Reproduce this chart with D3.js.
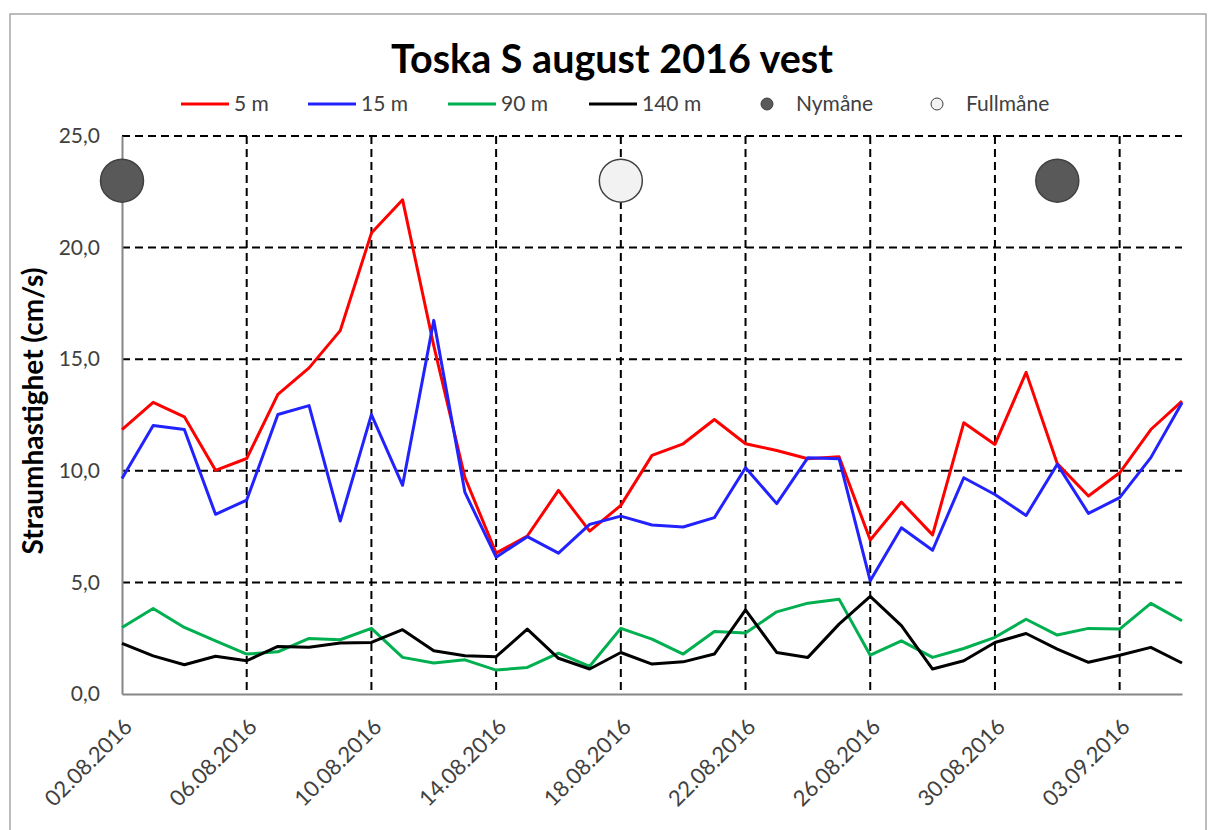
<!DOCTYPE html>
<html>
<head>
<meta charset="utf-8">
<script src="https://cdn.jsdelivr.net/npm/d3@7"></script>
<style>
  body { margin: 0; background: #fff; }
  text { font-family: Lato, "Open Sans", sans-serif; }
</style>
</head>
<body>
<svg id="chart" width="1214" height="830"></svg>
<script>
const svg = d3.select('#chart');
const margin = { top: 136, left: 122 };
const innerWidth = 1060;
const innerHeight = 558;

// daily means, 02.08.2016 - 05.09.2016
const startDate = '2016-08-02';
const endDate = '2016-09-05';
const depth5 = [11.85, 13.07, 12.42, 10.02, 10.55, 13.42, 14.61, 16.28, 20.65, 22.14,
  15.6, 9.7, 6.31, 7.08, 9.12, 7.30, 8.45, 10.69, 11.21, 12.30,
  11.21, 10.91, 10.54, 10.63, 6.90, 8.60, 7.13, 12.15, 11.18, 14.41,
  10.32, 8.87, 9.91, 11.85, 13.12];
const depth15 = [9.66, 12.03, 11.85, 8.05, 8.69, 12.52, 12.92, 7.75, 12.52, 9.35,
  16.74, 9.03, 6.13, 7.05, 6.31, 7.60, 7.97, 7.57, 7.48, 7.90,
  10.14, 8.53, 10.59, 10.54, 5.07, 7.45, 6.44, 9.69, 8.94, 8.00,
  10.29, 8.09, 8.80, 10.59, 13.05];
const depth90 = [2.98, 3.83, 2.98, 2.38, 1.79, 1.89, 2.49, 2.43, 2.94, 1.64,
  1.39, 1.53, 1.07, 1.19, 1.83, 1.24, 2.94, 2.46, 1.79, 2.80,
  2.73, 3.68, 4.07, 4.25, 1.74, 2.38, 1.64, 2.04, 2.54, 3.35,
  2.64, 2.94, 2.91, 4.06, 3.28];
const depth140 = [2.27, 1.71, 1.31, 1.69, 1.49, 2.13, 2.09, 2.28, 2.31, 2.88,
  1.94, 1.71, 1.67, 2.91, 1.60, 1.12, 1.86, 1.34, 1.44, 1.79,
  3.77, 1.86, 1.64, 3.13, 4.37, 3.06, 1.12, 1.49, 2.31, 2.71,
  2.01, 1.42, 1.74, 2.09, 1.39];

const seriesNames = ['5 m', '15 m', '90 m', '140 m'];
const seriesColors = ['#ff0000', '#2222ff', '#00b050', '#000000'];
const seriesValues = [depth5, depth15, depth90, depth140];

// moon phases
const moonDates = ['2016-08-02', '2016-08-18', '2016-09-01'];
const moonTypes = ['Nymåne', 'Fullmåne', 'Nymåne'];
const moonLevel = 23;

const yTicks = [0, 5, 10, 15, 20, 25];

const parse = d3.timeParse('%Y-%m-%d');
const dates = d3.timeDay.range(parse(startDate), d3.timeDay.offset(parse(endDate), 1));
const xTicks = d3.timeDay.range(parse(startDate), parse(endDate), 4);

// outer frame
svg.append('rect')
  .attr('x', 10).attr('y', 14).attr('width', 1196).attr('height', 830)
  .attr('fill', 'none').attr('stroke', '#a6a6a6').attr('stroke-width', 1.5);

const g = svg.append('g')
  .attr('transform', `translate(${margin.left},${margin.top})`);

const x = d3.scaleTime()
  .domain([parse(startDate), parse(endDate)])
  .range([0, innerWidth]);
const y = d3.scaleLinear()
  .domain([0, 25])
  .range([innerHeight, 0]);

// gridlines
g.append('g')
  .selectAll('line')
  .data(yTicks.filter(d => d > 0))
  .enter().append('line')
  .attr('x1', 0).attr('x2', innerWidth)
  .attr('y1', d => y(d)).attr('y2', d => y(d))
  .attr('stroke', '#000').attr('stroke-width', 2).attr('stroke-dasharray', '8,5');
g.append('g')
  .selectAll('line')
  .data(xTicks.slice(1))
  .enter().append('line')
  .attr('x1', d => x(d)).attr('x2', d => x(d))
  .attr('y1', 0).attr('y2', innerHeight)
  .attr('stroke', '#000').attr('stroke-width', 2).attr('stroke-dasharray', '8,5');

// axes
const yAxis = g.append('g')
  .call(d3.axisLeft(y).tickValues(yTicks).tickSize(0).tickPadding(22)
    .tickFormat(d => d3.format('.1f')(d).replace('.', ',')));
yAxis.select('.domain').attr('stroke', '#868686').attr('stroke-width', 2);
yAxis.selectAll('text').attr('font-size', 21).attr('fill', '#404040');

const xAxis = g.append('g')
  .attr('transform', `translate(0,${innerHeight})`)
  .call(d3.axisBottom(x).tickValues(xTicks).tickSize(0)
    .tickFormat(d3.timeFormat('%d.%m.%Y')));
xAxis.select('.domain').attr('stroke', '#868686').attr('stroke-width', 2);
xAxis.selectAll('text')
  .attr('font-size', 22).attr('fill', '#404040')
  .attr('text-anchor', 'end')
  .attr('dy', 0)
  .attr('transform', 'translate(9,32) rotate(-45)');

// lines
const line = d3.line()
  .x((d, i) => x(dates[i]))
  .y(d => y(d));
g.selectAll('.series')
  .data(seriesValues)
  .enter().append('path')
  .attr('class', 'series')
  .attr('fill', 'none')
  .attr('stroke', (d, i) => seriesColors[i])
  .attr('stroke-width', 3)
  .attr('stroke-linejoin', 'round')
  .attr('d', line);

// moon markers
g.selectAll('.moon')
  .data(moonDates)
  .enter().append('circle')
  .attr('class', 'moon')
  .attr('cx', d => x(parse(d)))
  .attr('cy', y(moonLevel))
  .attr('r', 21.5)
  .attr('fill', (d, i) => moonTypes[i] === 'Nymåne' ? '#595959' : '#f2f2f2')
  .attr('stroke', '#404040')
  .attr('stroke-width', 1.5);

// title
svg.append('text')
  .attr('x', 612).attr('y', 73)
  .attr('text-anchor', 'middle')
  .attr('font-size', 39.5).attr('font-weight', 'bold')
  .text('Toska S august 2016 vest');

// y label
svg.append('text')
  .attr('transform', 'translate(43,411) rotate(-90)')
  .attr('text-anchor', 'middle')
  .attr('font-size', 28).attr('font-weight', 'bold')
  .text('Straumhastighet (cm/s)');

// legend
const legend = svg.append('g').attr('transform', 'translate(0,104)');
const legendX = [181, 308, 448, 589];
seriesNames.forEach((name, i) => {
  legend.append('line')
    .attr('x1', legendX[i]).attr('x2', legendX[i] + 48)
    .attr('y1', 0).attr('y2', 0)
    .attr('stroke', seriesColors[i]).attr('stroke-width', 3);
  legend.append('text')
    .attr('x', legendX[i] + 53).attr('y', 7)
    .attr('font-size', 21).attr('fill', '#404040')
    .text(name);
});
const moonLegend = [{ name: 'Nymåne', cx: 767, fill: '#595959' }, { name: 'Fullmåne', cx: 937, fill: '#f2f2f2' }];
moonLegend.forEach(m => {
  legend.append('circle').attr('cx', m.cx).attr('cy', 0).attr('r', 6)
    .attr('fill', m.fill).attr('stroke', '#404040').attr('stroke-width', 1);
  legend.append('text').attr('x', m.cx + 29).attr('y', 7)
    .attr('font-size', 21).attr('fill', '#404040')
    .text(m.name);
});
</script>
</body>
</html>
